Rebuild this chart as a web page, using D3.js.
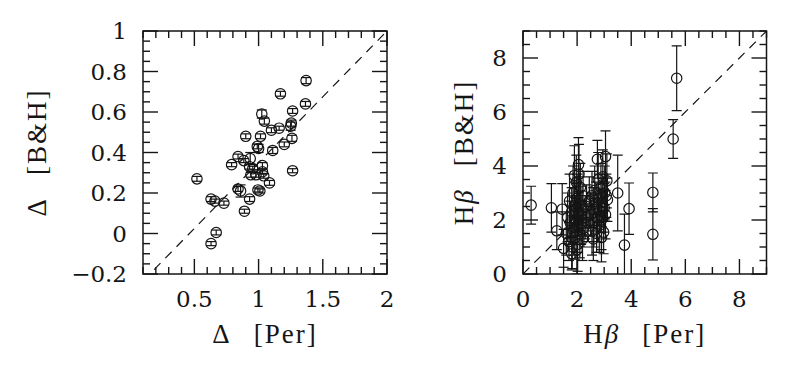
<!DOCTYPE html>
<html>
<head>
<meta charset="utf-8">
<script src="https://cdn.jsdelivr.net/npm/d3@7"></script>
<style>
  body { margin: 0; background: #fff; }
  text { fill: #151515; }
</style>
</head>
<body>
<svg id="chart" width="800" height="367"></svg>
<script>
// left panel: Delta measured by Per vs by B&H -> [x, y, yErr]
const deltaPoints = [
  [0.52, 0.27, 0.012], [0.63, 0.17, 0.012], [0.66, 0.16, 0.01], [0.73, 0.15, 0.01],
  [0.67, 0.005, 0.012], [0.63, -0.05, 0.01], [0.79, 0.34, 0.01], [0.84, 0.38, 0.012],
  [0.84, 0.22, 0.012], [0.86, 0.21, 0.03], [0.89, 0.11, 0.01], [0.90, 0.48, 0.012],
  [0.93, 0.17, 0.012], [0.885, 0.36, 0.01], [0.935, 0.37, 0.03], [0.93, 0.33, 0.012],
  [0.94, 0.29, 0.012], [0.955, 0.32, 0.012], [0.98, 0.29, 0.012], [0.99, 0.43, 0.012],
  [1.00, 0.42, 0.02], [1.015, 0.48, 0.012], [1.025, 0.59, 0.02], [1.045, 0.555, 0.015],
  [0.995, 0.215, 0.01], [1.01, 0.21, 0.01], [1.03, 0.335, 0.015], [1.03, 0.305, 0.012],
  [1.04, 0.285, 0.012], [1.085, 0.25, 0.012], [1.10, 0.51, 0.012], [1.11, 0.41, 0.015],
  [1.16, 0.52, 0.01], [1.17, 0.69, 0.012], [1.20, 0.44, 0.012], [1.25, 0.53, 0.02],
  [1.255, 0.545, 0.015], [1.265, 0.605, 0.012], [1.26, 0.47, 0.015], [1.265, 0.31, 0.01],
  [1.37, 0.755, 0.015], [1.365, 0.64, 0.012]
];
const deltaXTicks = [0.5, 1, 1.5, 2];
const deltaYTicks = [-0.2, 0, 0.2, 0.4, 0.6, 0.8, 1];
const deltaFit = { slope: 0.65, intercept: -0.3 };

// right panel: H beta, Per vs B&H -> [x, y, yErr]
const hbPoints = [
  [0.3, 2.55, 0.7], [1.05, 2.45, 0.9], [1.25, 1.6, 0.7], [1.45, 2.4, 0.95],
  [1.5, 0.95, 0.7], [1.8, 0.75, 0.6], [2.05, 4.05, 1.0], [2.75, 4.25, 0.7],
  [3.05, 4.35, 0.95], [3.12, 2.75, 0.8], [3.5, 3.0, 1.4], [3.75, 1.07, 1.15],
  [3.92, 2.42, 0.95], [4.8, 3.02, 0.72], [4.8, 1.47, 0.95], [5.55, 5.0, 0.72],
  [5.68, 7.25, 1.2],
  [1.6, 1.5, 0.8], [1.65, 2.1, 0.9], [1.7, 1.2, 0.7], [1.72, 2.7, 1.0], [1.75, 1.9, 0.8],
  [1.8, 2.3, 0.9], [1.82, 1.0, 0.8], [1.85, 3.0, 1.0], [1.88, 1.6, 0.9], [1.9, 2.5, 0.9],
  [1.92, 1.35, 0.8], [1.95, 2.0, 0.9], [1.97, 3.4, 1.0], [2.0, 1.8, 1.0], [2.0, 2.8, 0.9],
  [2.02, 1.1, 1.0], [2.05, 2.2, 0.8], [2.07, 3.7, 1.1], [2.1, 1.5, 0.9], [2.1, 2.6, 1.0],
  [2.12, 3.2, 0.9], [2.15, 1.9, 0.8], [2.18, 2.35, 0.9], [2.2, 1.3, 0.8], [2.22, 2.9, 0.9],
  [2.25, 1.7, 0.7], [2.3, 2.1, 0.8], [1.98, 2.45, 0.9], [1.9, 3.65, 1.1], [2.0, 0.9, 0.9],
  [2.35, 2.5, 0.8], [2.4, 1.9, 0.7], [2.45, 2.7, 0.9], [2.5, 2.2, 0.8], [2.55, 1.6, 0.9],
  [2.55, 2.9, 0.9], [2.6, 2.4, 0.8], [2.62, 1.9, 0.9], [2.65, 3.1, 0.9], [2.7, 2.6, 0.8],
  [2.72, 1.5, 0.7], [2.75, 2.1, 0.9], [2.78, 3.5, 1.0], [2.8, 2.8, 0.9], [2.82, 1.8, 1.0],
  [2.85, 2.35, 0.8], [2.88, 3.2, 0.9], [2.9, 2.0, 1.1], [2.92, 2.65, 0.9], [2.95, 3.6, 1.0],
  [2.98, 1.55, 0.8], [3.0, 2.45, 0.9], [3.02, 3.0, 1.0], [3.05, 2.2, 0.9], [3.08, 2.9, 0.8],
  [3.1, 3.45, 1.0], [2.9, 1.35, 0.9], [2.6, 1.3, 0.8]
];
const hbTicks = [0, 2, 4, 6, 8];

const svg = d3.select("#chart");
const ink = "#151515";
// digits from Liberation Serif come out sans here, so tick numbers use DejaVu Serif
const numFont = "'DejaVu Serif', serif";
const wordFont = "'Liberation Serif', 'DejaVu Serif', serif";

function drawPanel(o) {
  const x = d3.scaleLinear().domain(o.xDomain).range([o.left, o.right]);
  const y = d3.scaleLinear().domain(o.yDomain).range([o.bottom, o.top]);
  const g = svg.append("g");

  const clipId = "clip-" + o.name;
  svg.append("clipPath").attr("id", clipId)
    .append("rect").attr("x", o.left).attr("y", o.top)
    .attr("width", o.right - o.left).attr("height", o.bottom - o.top);

  // frame
  g.append("rect").attr("x", o.left).attr("y", o.top)
    .attr("width", o.right - o.left).attr("height", o.bottom - o.top)
    .attr("fill", "none").attr("stroke", ink).attr("stroke-width", 1.5);

  // ticks on all four sides, pointing in
  const near = (v, list) => list.some(t => Math.abs(t - v) < 1e-6);
  const xMinor = d3.range(o.xDomain[0], o.xDomain[1] + 1e-6, o.xMinorStep).filter(v => !near(v, o.xTicks));
  const yMinor = d3.range(o.yDomain[0], o.yDomain[1] + 1e-6, o.yMinorStep).filter(v => !near(v, o.yTicks));
  const xt = o.xTicks.map(v => ({ v, len: 15 })).concat(xMinor.map(v => ({ v, len: 7 })));
  const yt = o.yTicks.map(v => ({ v, len: 15 })).concat(yMinor.map(v => ({ v, len: 7 })));
  const tk = g.append("g").attr("stroke", ink).attr("stroke-width", 1.4);
  xt.forEach(t => {
    tk.append("line").attr("x1", x(t.v)).attr("x2", x(t.v)).attr("y1", o.bottom).attr("y2", o.bottom - t.len);
    tk.append("line").attr("x1", x(t.v)).attr("x2", x(t.v)).attr("y1", o.top).attr("y2", o.top + t.len);
  });
  yt.forEach(t => {
    tk.append("line").attr("y1", y(t.v)).attr("y2", y(t.v)).attr("x1", o.left).attr("x2", o.left + t.len);
    tk.append("line").attr("y1", y(t.v)).attr("y2", y(t.v)).attr("x1", o.right).attr("x2", o.right - t.len);
  });

  // tick labels
  g.selectAll(".xl").data(o.xTicks).join("text")
    .attr("x", d => x(d)).attr("y", o.bottom + 32.5)
    .attr("text-anchor", "middle").attr("font-family", numFont).attr("font-size", 23)
    .text(d => o.fmt(d));
  g.selectAll(".yl").data(o.yTicks).join("text")
    .attr("x", o.left - 16).attr("y", d => y(d) + 8.4)
    .attr("text-anchor", "end").attr("font-family", numFont).attr("font-size", 23)
    .text(d => o.fmt(d));

  // reference line
  const lx = o.xDomain;
  g.append("line")
    .attr("x1", x(lx[0])).attr("y1", y(o.line.slope * lx[0] + o.line.intercept))
    .attr("x2", x(lx[1])).attr("y2", y(o.line.slope * lx[1] + o.line.intercept))
    .attr("stroke", ink).attr("stroke-width", 1.2).attr("stroke-dasharray", "9,7")
    .attr("clip-path", `url(#${clipId})`);

  // points with vertical error bars
  const pts = g.append("g").attr("clip-path", `url(#${clipId})`)
    .attr("stroke", ink).attr("stroke-width", 1.2).attr("fill", "none");
  o.points.forEach(d => {
    const cx = x(d[0]), lo = y(d[1] - d[2]), hi = y(d[1] + d[2]);
    pts.append("line").attr("x1", cx).attr("x2", cx).attr("y1", lo).attr("y2", hi);
    pts.append("line").attr("x1", cx - 5).attr("x2", cx + 5).attr("y1", lo).attr("y2", lo);
    pts.append("line").attr("x1", cx - 5).attr("x2", cx + 5).attr("y1", hi).attr("y2", hi);
    pts.append("circle").attr("cx", cx).attr("cy", y(d[1])).attr("r", 5.2);
  });

  // axis titles
  const xt2 = g.append("text").attr("x", (o.left + o.right) / 2).attr("y", 343)
    .attr("text-anchor", "middle").attr("font-family", wordFont)
    .attr("font-size", 27).attr("letter-spacing", 2);
  o.xTitle(xt2);
  const yt2 = g.append("text")
    .attr("transform", `translate(${o.yTitleX},${(o.top + o.bottom) / 2}) rotate(-90)`)
    .attr("text-anchor", "middle").attr("font-family", wordFont)
    .attr("font-size", 27).attr("letter-spacing", 2);
  o.yTitle(yt2);
}

const minusFmt = d => d3.format("")(d).replace("-", "\u2212");

drawPanel({
  name: "delta", left: 143, right: 387, top: 31, bottom: 274, yTitleX: 46,
  xDomain: [0.1, 2], yDomain: [-0.2, 1],
  xTicks: deltaXTicks, yTicks: deltaYTicks, xMinorStep: 0.1, yMinorStep: 0.05,
  points: deltaPoints, line: deltaFit, fmt: minusFmt,
  xTitle: t => { t.append("tspan").text("\u0394"); t.append("tspan").attr("dx", 22).text("[Per]"); },
  yTitle: t => { t.append("tspan").text("\u0394"); t.append("tspan").attr("dx", 22).text("[B&H]"); }
});

drawPanel({
  name: "hb", left: 523, right: 766.5, top: 31, bottom: 274, yTitleX: 473,
  xDomain: [0, 9], yDomain: [0, 9],
  xTicks: hbTicks, yTicks: hbTicks, xMinorStep: 0.5, yMinorStep: 0.5,
  points: hbPoints, line: { slope: 1, intercept: 0 }, fmt: minusFmt,
  xTitle: t => {
    t.append("tspan").text("H");
    t.append("tspan").attr("font-style", "italic").text("\u03b2");
    t.append("tspan").attr("dx", 22).text("[Per]");
  },
  yTitle: t => {
    t.append("tspan").text("H");
    t.append("tspan").attr("font-style", "italic").text("\u03b2");
    t.append("tspan").attr("dx", 22).text("[B&H]");
  }
});
</script>
</body>
</html>
